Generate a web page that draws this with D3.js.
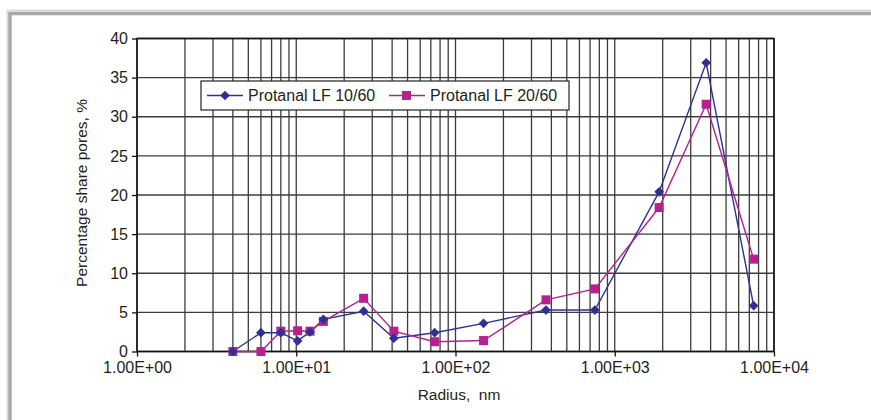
<!DOCTYPE html>
<html>
<head>
<meta charset="utf-8">
<script src="https://cdn.jsdelivr.net/npm/d3@7"></script>
<style>
  body { margin: 0; background: #fff; }
  svg { display: block; font-family: "Liberation Sans", Arial, sans-serif; }
</style>
</head>
<body>
<svg id="chart" width="871" height="420"></svg>
<script>
// radius, nm
var radius = [4, 6, 8, 10.2, 12.2, 14.8, 26.5, 41, 74, 150, 370, 750, 1900, 3750, 7450];
var share1060 = [0, 2.4, 2.4, 1.35, 2.5, 4.1, 5.15, 1.7, 2.4, 3.6, 5.3, 5.3, 20.4, 36.9, 5.85];
var share2060 = [0, 0, 2.6, 2.65, 2.6, 3.85, 6.8, 2.6, 1.25, 1.4, 6.6, 8.0, 18.4, 31.6, 11.8];
var seriesNames = ["Protanal LF 10/60", "Protanal LF 20/60"];
var xTickValues = [1, 10, 100, 1000, 10000];
var xTickLabels = ["1.00E+00", "1.00E+01", "1.00E+02", "1.00E+03", "1.00E+04"];
var yTickValues = [0, 5, 10, 15, 20, 25, 30, 35, 40];

var svg;
var blue = "#2e3192";
var magenta = "#b5228f";

document.addEventListener('DOMContentLoaded', function() {
  svg = d3.select('#chart');
  drawChart();
});

function drawChart() {
  var left = 137, right = 774, top = 38.5, bottom = 351.5;

  // grey frame
  svg.append("rect")
    .attr("x", 7.5).attr("y", 10.5)
    .attr("width", 900).attr("height", 450)
    .attr("fill", "none")
    .attr("stroke", "#dcdcdc")
    .attr("stroke-width", 2);
  svg.append("rect")
    .attr("x", 10).attr("y", 13.5)
    .attr("width", 900).attr("height", 450)
    .attr("fill", "none")
    .attr("stroke", "#a7a9ac")
    .attr("stroke-width", 3.5);

  var x = d3.scaleLog()
    .domain([1, 10000])
    .range([left, right]);

  var y = d3.scaleLinear()
    .domain([0, 40])
    .range([bottom, top]);

  // vertical grid on every log tick
  svg.append("g")
    .selectAll("line")
    .data(x.ticks())
    .enter().append("line")
    .attr("x1", function(d) { return x(d); })
    .attr("x2", function(d) { return x(d); })
    .attr("y1", top)
    .attr("y2", bottom)
    .attr("stroke", "#3c3c3c")
    .attr("stroke-width", 1.3);

  // horizontal grid
  svg.append("g")
    .selectAll("line")
    .data(yTickValues)
    .enter().append("line")
    .attr("x1", left)
    .attr("x2", right)
    .attr("y1", function(d) { return y(d); })
    .attr("y2", function(d) { return y(d); })
    .attr("stroke", "#3c3c3c")
    .attr("stroke-width", 1.3);

  // plot border
  svg.append("rect")
    .attr("x", left).attr("y", top)
    .attr("width", right - left).attr("height", bottom - top)
    .attr("fill", "none")
    .attr("stroke", "#111")
    .attr("stroke-width", 1.5);

  // x axis
  svg.append("g")
    .attr("transform", "translate(0," + bottom + ")")
    .call(d3.axisBottom(x)
      .tickValues(xTickValues)
      .tickFormat(function(d, i) { return xTickLabels[i]; })
      .tickSize(5)
      .tickSizeOuter(0))
    .call(g => g.select(".domain").remove())
    .call(g => g.selectAll(".tick line").attr("stroke", "#111").attr("stroke-width", 1.3))
    .call(g => g.selectAll(".tick text")
      .attr("y", 10)
      .attr("font-size", "16px")
      .attr("font-family", "Liberation Sans, Arial, sans-serif")
      .attr("fill", "#231f20"));

  // y axis
  svg.append("g")
    .attr("transform", "translate(" + left + ",0)")
    .call(d3.axisLeft(y)
      .tickValues(yTickValues)
      .tickSize(5)
      .tickSizeOuter(0))
    .call(g => g.select(".domain").remove())
    .call(g => g.selectAll(".tick line").attr("stroke", "#111").attr("stroke-width", 1.3))
    .call(g => g.selectAll(".tick text")
      .attr("x", -9)
      .attr("font-size", "16px")
      .attr("font-family", "Liberation Sans, Arial, sans-serif")
      .attr("fill", "#231f20"));

  // axis titles
  svg.append("text")
    .attr("x", 459)
    .attr("y", 400)
    .attr("font-size", "15.5px")
    .attr("fill", "#231f20")
    .style("text-anchor", "middle")
    .style("white-space", "pre")
    .text("Radius,  nm");

  svg.append("text")
    .attr("transform", "translate(87,193) rotate(-90)")
    .attr("font-size", "15.5px")
    .attr("fill", "#231f20")
    .style("text-anchor", "middle")
    .text("Percentage share pores, %");

  var line = d3.line()
    .x(function(d) { return x(d[0]); })
    .y(function(d) { return y(d[1]); });

  var pts1 = radius.map(function(r, i) { return [r, share1060[i]]; });
  var pts2 = radius.map(function(r, i) { return [r, share2060[i]]; });

  svg.append("path")
    .datum(pts1)
    .attr("d", line)
    .attr("fill", "none")
    .attr("stroke", blue)
    .attr("stroke-width", 1.4);

  svg.append("path")
    .datum(pts2)
    .attr("d", line)
    .attr("fill", "none")
    .attr("stroke", magenta)
    .attr("stroke-width", 1.4);

  var diamond = d3.symbol().type(d3.symbolDiamond2).size(60);

  svg.selectAll(".sq")
    .data(pts2)
    .enter().append("rect")
    .attr("class", "sq")
    .attr("x", function(d) { return x(d[0]) - 4.5; })
    .attr("y", function(d) { return y(d[1]) - 4.5; })
    .attr("width", 9)
    .attr("height", 9)
    .attr("fill", magenta);

  svg.selectAll(".dm")
    .data(pts1)
    .enter().append("path")
    .attr("class", "dm")
    .attr("transform", function(d) { return "translate(" + x(d[0]) + "," + y(d[1]) + ")"; })
    .attr("d", diamond)
    .attr("fill", blue);

  // legend
  var lg = svg.append("g");
  lg.append("rect")
    .attr("x", 201).attr("y", 81)
    .attr("width", 368).attr("height", 29)
    .attr("fill", "#fff")
    .attr("stroke", "#222")
    .attr("stroke-width", 1.2);

  lg.append("line")
    .attr("x1", 207).attr("x2", 243)
    .attr("y1", 95.5).attr("y2", 95.5)
    .attr("stroke", blue).attr("stroke-width", 1.6);
  lg.append("path")
    .attr("transform", "translate(225,95.5)")
    .attr("d", diamond)
    .attr("fill", blue);
  lg.append("text")
    .attr("x", 248).attr("y", 100.5)
    .attr("font-size", "16px")
    .attr("fill", "#231f20")
    .text(seriesNames[0]);

  lg.append("line")
    .attr("x1", 389).attr("x2", 425)
    .attr("y1", 95.5).attr("y2", 95.5)
    .attr("stroke", magenta).attr("stroke-width", 1.6);
  lg.append("rect")
    .attr("x", 402).attr("y", 91)
    .attr("width", 9).attr("height", 9)
    .attr("fill", magenta);
  lg.append("text")
    .attr("x", 430).attr("y", 100.5)
    .attr("font-size", "16px")
    .attr("fill", "#231f20")
    .text(seriesNames[1]);
}
</script>
</body>
</html>
